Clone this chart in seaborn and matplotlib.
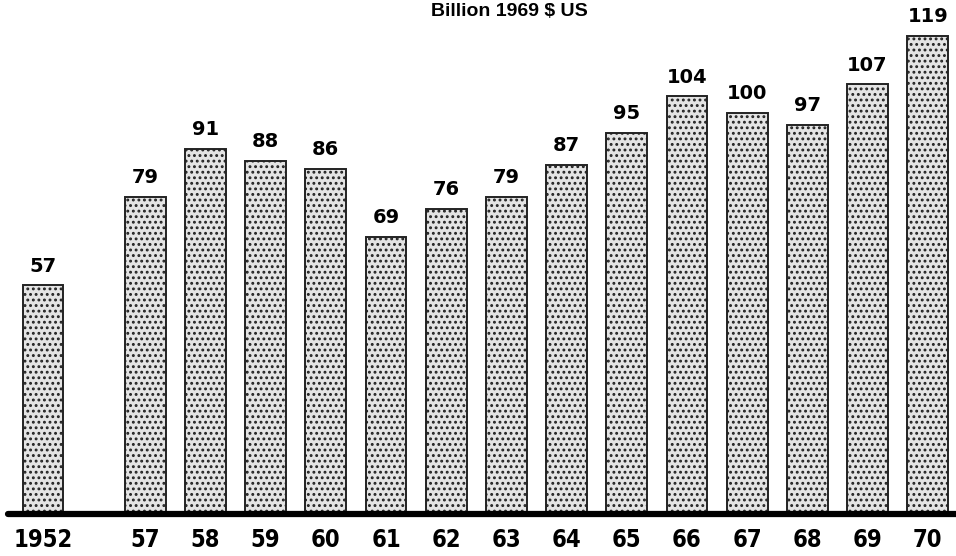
import numpy as np
import matplotlib
matplotlib.use("Agg")
import matplotlib.pyplot as plt
import seaborn as sns

# Values (billion 1969 $ US)
years = ["1952", "57", "58", "59", "60", "61", "62", "63", "64",
         "65", "66", "67", "68", "69", "70"]
values = [57, 79, 91, 88, 86, 69, 76, 79, 87, 95, 104, 100, 97, 107, 119]

sns.set_style("white")
plt.rcParams["font.family"] = ["DejaVu Sans"]
plt.rcParams["hatch.linewidth"] = 1.3
plt.rcParams["text.color"] = "black"
plt.rcParams["xtick.color"] = "black"

# the chart leaves a wider gap between 1952 and 1957
pos = np.arange(len(years)) + np.where(np.arange(len(years)) > 0, 0.7, 0.0)

fig = plt.figure(figsize=(9.56, 5.56), dpi=100)
ax = fig.add_axes([0, 0.075, 1, 0.925])

sns.barplot(x=pos, y=values, native_scale=True, width=0.68,
            color="#e4e4e4", edgecolor="#222222", linewidth=1.4,
            hatch="...", ax=ax)

ax.set_xlim(-0.714, 15.17)
ax.set_ylim(0, 128)
for s in ax.spines.values():
    s.set_visible(False)
ax.axhline(0, xmin=0.008, xmax=1, color="black", lw=4.5, clip_on=False)

ax.set_yticks([])
ax.set_xticks(pos)
ax.set_xticklabels(years, fontsize=17, fontweight="bold",
                   fontstretch="condensed")
ax.tick_params(axis="x", length=0, pad=10)
ax.set_xlabel("")
ax.set_ylabel("")

for p, v in zip(pos, values):
    ax.annotate(str(v), (p, v), xytext=(0, 7), textcoords="offset points",
                ha="center", va="bottom", fontsize=14, fontweight="bold")

fig.text(0.533, 1 - 16 / 556, "Billion 1969 $ US", ha="center",
         va="baseline", fontsize=14, fontweight="bold",
         family=["Liberation Sans", "DejaVu Sans"])

fig.savefig("out.png", dpi=100)
